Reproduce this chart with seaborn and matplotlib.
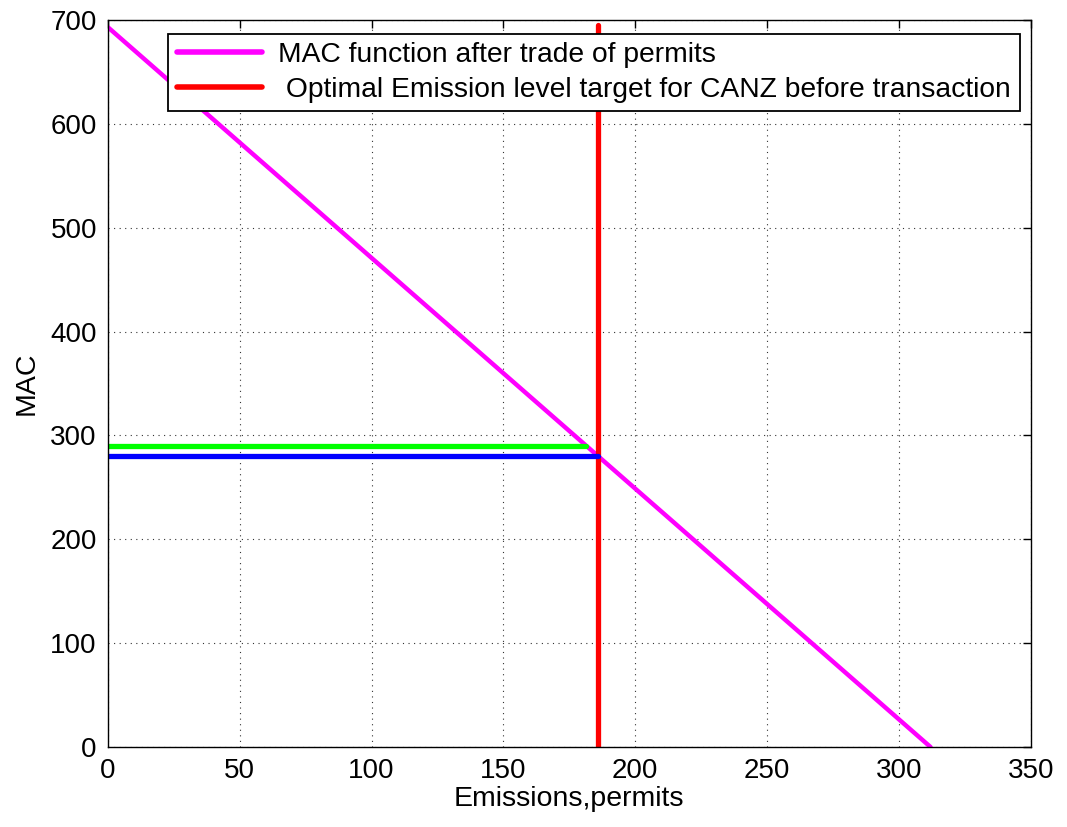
import matplotlib
matplotlib.use("Agg")
import matplotlib.pyplot as plt
import seaborn as sns
import pandas as pd

# Data
mac_emissions = [0, 312]
mac_values = [693, 0]
optimal_emission = [186, 186]
optimal_mac_span = [0, 695]
green_x = [0, 181.5]
green_y = [290, 290]
blue_x = [0, 186]
blue_y = [280, 280]

sns.set_style("white")
plt.rcParams['font.family'] = ['Liberation Sans', 'DejaVu Sans']
plt.rcParams['text.color'] = 'black'
plt.rcParams['axes.labelcolor'] = 'black'

fig = plt.figure(figsize=(10.67, 8.27), dpi=100)
ax = fig.add_axes([0.1012, 0.0967, 0.966 - 0.1012, 0.9758 - 0.0967])

sns.lineplot(x=mac_emissions, y=mac_values, color='#ff00ff', lw=3.2, ax=ax,
             estimator=None, sort=False,
             label='MAC function after trade of permits')
sns.lineplot(x=optimal_emission, y=optimal_mac_span, color='#ff0000', lw=3.8, ax=ax,
             estimator=None, sort=False,
             label=' Optimal Emission level target for CANZ before transaction')
sns.lineplot(x=green_x, y=green_y, color='#00ff00', lw=3.8, ax=ax, legend=False,
             estimator=None, sort=False)
sns.lineplot(x=blue_x, y=blue_y, color='#0000ff', lw=3.8, ax=ax, legend=False,
             estimator=None, sort=False)

ax.set_xlim(0, 350)
ax.set_ylim(0, 700)
ax.set_xticks(range(0, 351, 50))
ax.set_yticks(range(0, 701, 100))
ax.grid(True, linestyle=(0, (1, 4)), color='#333333', linewidth=0.8)
for s in ax.spines.values():
    s.set_visible(True)
    s.set_color('black')
    s.set_linewidth(1.0)
ax.tick_params(direction='in', length=6, width=1, labelsize=20, top=True, right=True,
               colors='black', pad=8)
ax.set_xlabel('Emissions,permits', fontsize=20.5, labelpad=1)
ax.set_ylabel('MAC', fontsize=20.5, labelpad=8)

leg = ax.legend(loc='upper right', bbox_to_anchor=(0.988, 0.981), fontsize=20.3,
                handlelength=3.0, handletextpad=0.6, frameon=True, fancybox=False, framealpha=1,
                edgecolor='black', borderpad=0.3, labelspacing=0.3, borderaxespad=0)
leg.get_frame().set_linewidth(1.3)
for line in leg.get_lines():
    line.set_linewidth(4)

fig.savefig('out.png', dpi=100)
